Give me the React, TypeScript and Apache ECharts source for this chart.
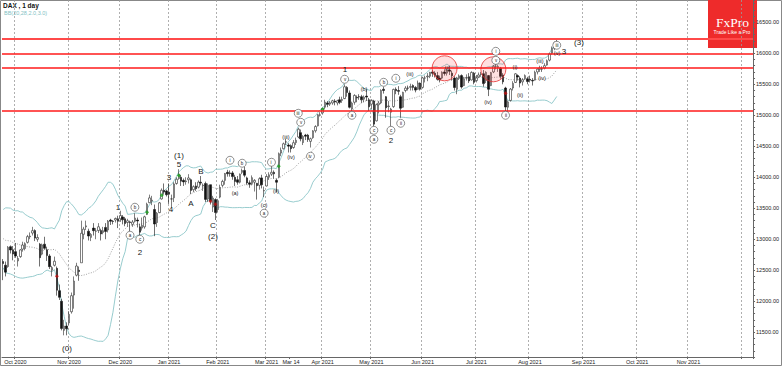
import React, { useEffect, useRef } from "react";
import * as echarts from "echarts";

// ---------- axis / calendar data ----------
const HOLIDAYS = ["2020-12-24", "2020-12-25", "2020-12-31", "2021-01-01", "2021-04-02", "2021-04-05", "2021-12-24"];
const MONTHS = ["Jan", "Feb", "Mar", "Apr", "May", "Jun", "Jul", "Aug", "Sep", "Oct", "Nov", "Dec"];
const CATEGORY_COUNT = 308;
const FIRST_DAY = "2020-09-24";
const SPECIAL_LABEL_DAY = "2021-03-15";
const SPECIAL_LABEL = "Mar 14";
const LAST_LABEL_MONTH = "2021-11";

// ---------- price data ----------
// closes before the first visible bar (used only for Bollinger bands)
const priorCloses = [13033, 12945, 12974, 13243, 13057, 12842, 13100, 12968, 13237, 13209, 13203, 13194, 13218, 13255, 13208, 13116, 12542, 12595, 12643];

// [open, close, low, high]
const ohlc: number[][] = [
  [12640, 12607, 12340, 12680], [12580, 12469, 12400, 12640], [12560, 12870, 12540, 12890], [12880, 12826, 12770, 12900], [12830, 12761, 12660, 12890],
  [12800, 12731, 12700, 12940], [12650, 12689, 12560, 12730], [12720, 12828, 12700, 12840], [12840, 12906, 12800, 12960], [12850, 12928, 12820, 12950],
  [12950, 13042, 12930, 13070], [13040, 13051, 13000, 13110], [13100, 13138, 13060, 13200], [13140, 13018, 12970, 13160], [13000, 13028, 12960, 13080],
  [12920, 12703, 12560, 12940], [12760, 12909, 12740, 12930], [12920, 12854, 12830, 13040], [12830, 12736, 12650, 12880], [12730, 12558, 12520, 12760],
  [12500, 12543, 12400, 12570], [12580, 12645, 12560, 12720], [12530, 12177, 12090, 12560], [12170, 12063, 12020, 12270], [12000, 11561, 11530, 12040],
  [11530, 11598, 11450, 11700], [11600, 11556, 11450, 11660],
  // Nov 2020
  [11650, 11788, 11620, 11840], [11830, 12089, 11800, 12140], [12100, 12324, 11880, 12400], [12420, 12568, 12400, 12620], [12500, 12480, 12330, 12560],
  [12620, 13096, 12620, 13300], [13080, 13163, 13000, 13200], [13200, 13216, 13150, 13300], [13130, 13052, 12980, 13170], [13030, 13076, 12970, 13100],
  [13180, 13138, 13060, 13260], [13130, 13133, 13000, 13180], [13140, 13201, 13100, 13260], [13140, 13086, 12980, 13170], [13110, 13137, 13080, 13200],
  [13190, 13126, 13000, 13260], [13150, 13292, 13110, 13310], [13310, 13289, 13230, 13330], [13290, 13286, 13240, 13310], [13310, 13335, 13270, 13350],
  [13330, 13291, 13180, 13380],
  // Dec 2020
  [13330, 13382, 13280, 13460], [13360, 13313, 13240, 13390], [13330, 13252, 13210, 13360], [13270, 13298, 13200, 13330], [13280, 13271, 13130, 13300],
  [13240, 13278, 13200, 13310], [13290, 13340, 13270, 13420], [13310, 13295, 13190, 13350], [13200, 13114, 13060, 13250], [13180, 13223, 13140, 13350],
  [13200, 13362, 13170, 13380], [13400, 13565, 13390, 13590], [13590, 13667, 13580, 13720], [13620, 13630, 13550, 13700], [13480, 13246, 13050, 13560],
  [13270, 13418, 13200, 13440], [13430, 13587, 13420, 13600], [13650, 13790, 13640, 13820], [13790, 13761, 13720, 13900], [13780, 13719, 13690, 13800],
  // Jan 2021
  [13760, 13726, 13570, 13900], [13650, 13651, 13510, 13720], [13670, 13892, 13600, 13920], [13900, 13968, 13880, 14000], [13980, 14050, 13960, 14130],
  [14000, 13937, 13860, 14040], [13950, 13925, 13860, 13980], [13930, 13940, 13880, 14000], [13960, 13989, 13900, 14050], [13960, 13788, 13730, 13980],
  [13800, 13848, 13760, 13870], [13860, 13815, 13780, 13920], [13840, 13921, 13820, 13950], [13920, 13906, 13870, 14020], [13860, 13873, 13780, 13900],
  [13900, 13643, 13600, 13930], [13650, 13871, 13600, 13900], [13880, 13620, 13560, 13880], [13520, 13665, 13440, 13700], [13640, 13432, 13310, 13660],
  // Feb 2021
  [13480, 13622, 13430, 13650], [13680, 13835, 13660, 13880], [13870, 13933, 13840, 13960], [13950, 14060, 13880, 14070], [14080, 14057, 14010, 14120],
  [14070, 14060, 14010, 14110], [14070, 14011, 13960, 14100], [14000, 13933, 13860, 14040], [13960, 13920, 13880, 14020], [13920, 14050, 13900, 14060],
  [14080, 14109, 14050, 14140], [14110, 14033, 14000, 14170], [13990, 13909, 13880, 14010], [13910, 13887, 13830, 13950], [13900, 13993, 13870, 14030],
  [13920, 13950, 13770, 13970], [13900, 13865, 13640, 13910], [13870, 13976, 13800, 14000], [13990, 13879, 13820, 14040], [13780, 13786, 13680, 13850],
  // Mar 2021
  [13860, 14012, 13850, 14050], [14000, 14039, 13960, 14080], [14050, 14080, 14020, 14190], [14080, 14056, 13980, 14110], [13950, 13920, 13760, 13980],
  [14000, 14380, 13990, 14400], [14390, 14437, 14340, 14480], [14460, 14540, 14450, 14560], [14570, 14569, 14520, 14620], [14520, 14502, 14400, 14550],
  [14510, 14461, 14400, 14530], [14480, 14557, 14460, 14600], [14560, 14596, 14520, 14640], [14650, 14775, 14630, 14800], [14720, 14621, 14580, 14770],
  [14560, 14657, 14520, 14680], [14680, 14662, 14600, 14700], [14680, 14610, 14570, 14700], [14580, 14621, 14480, 14640], [14640, 14748, 14620, 14760],
  [14750, 14818, 14720, 14840], [14830, 15008, 14820, 15020], [15000, 15008, 14980, 15050],
  // Apr 2021
  [15040, 15107, 15010, 15120], [15130, 15212, 15100, 15250], [15200, 15176, 15130, 15230], [15180, 15203, 15150, 15230], [15200, 15234, 15170, 15250],
  [15230, 15215, 15160, 15260], [15200, 15234, 15160, 15250], [15250, 15209, 15180, 15300], [15240, 15255, 15200, 15300], [15270, 15460, 15260, 15500],
  [15450, 15368, 15300, 15470], [15360, 15129, 15110, 15400], [15100, 15195, 15050, 15220], [15210, 15320, 15170, 15340], [15290, 15280, 15210, 15320],
  [15300, 15296, 15250, 15340], [15300, 15249, 15200, 15330], [15260, 15292, 15210, 15320], [15310, 15293, 15230, 15420], [15250, 15136, 15070, 15280],
  // May 2021
  [15180, 15236, 15100, 15260], [15230, 14857, 14810, 15250], [14910, 15171, 14900, 15190], [15170, 15196, 15030, 15230], [15200, 15400, 15180, 15420],
  [15420, 15400, 15350, 15460], [15300, 15120, 14960, 15310], [15140, 15150, 15050, 15230], [15050, 15100, 14820, 15120], [15140, 15417, 15120, 15430],
  [15420, 15397, 15340, 15450], [15400, 15386, 15330, 15470], [15300, 15114, 14960, 15330], [15130, 15370, 15120, 15380], [15400, 15438, 15370, 15470],
  [15440, 15438, 15400, 15480], [15450, 15465, 15400, 15510], [15480, 15450, 15400, 15500], [15450, 15406, 15370, 15470], [15420, 15520, 15410, 15560],
  [15520, 15421, 15400, 15530],
  // Jun 2021
  [15450, 15603, 15430, 15620], [15600, 15603, 15530, 15640], [15620, 15632, 15550, 15680], [15630, 15693, 15600, 15700], [15700, 15677, 15620, 15730],
  [15680, 15640, 15610, 15710], [15640, 15581, 15560, 15700], [15600, 15571, 15530, 15640], [15600, 15693, 15580, 15710], [15700, 15674, 15640, 15740],
  [15680, 15729, 15640, 15760], [15730, 15710, 15650, 15800], [15680, 15636, 15560, 15720], [15600, 15448, 15400, 15630], [15420, 15603, 15340, 15620],
  [15600, 15636, 15570, 15660], [15640, 15456, 15430, 15660], [15480, 15589, 15470, 15620], [15600, 15607, 15560, 15660], [15620, 15554, 15520, 15680],
  [15570, 15691, 15560, 15710], [15680, 15531, 15500, 15700],
  // Jul 2021
  [15560, 15603, 15530, 15650], [15620, 15650, 15600, 15690], [15660, 15661, 15620, 15700], [15670, 15511, 15460, 15730], [15560, 15692, 15520, 15710],
  [15640, 15420, 15310, 15650], [15480, 15688, 15470, 15700], [15700, 15790, 15680, 15810], [15790, 15790, 15740, 15850], [15770, 15788, 15700, 15810],
  [15760, 15629, 15590, 15780], [15650, 15540, 15500, 15680], [15440, 15133, 15060, 15460], [15130, 15216, 15030, 15240], [15240, 15422, 15220, 15440],
  [15440, 15514, 15400, 15550], [15530, 15669, 15520, 15680], [15640, 15618, 15560, 15660], [15600, 15519, 15450, 15630], [15540, 15570, 15480, 15600],
  [15590, 15640, 15570, 15660], [15590, 15544, 15500, 15620],
  // Aug 2021
  [15580, 15568, 15530, 15640], [15560, 15555, 15480, 15600], [15570, 15692, 15560, 15720], [15700, 15744, 15660, 15760], [15740, 15761, 15700, 15800],
  [15750, 15745, 15700, 15790], [15760, 15800, 15740, 15840], [15810, 15880, 15800, 15900], [15890, 15990, 15870, 16010], [16000, 16080, 15980, 16110],
  [16080, 16170, 16050, 16190], [16180, 16150, 16120, 16240],
];

const resistanceLevels = [16233, 16000, 15767, 15079];
const currentPrice = 15941.88;

// ---------- annotations [barIndex, price, text] ----------
const waveLabels: [number, number, string][] = [
  [26, 11242, "(0)"], [47, 13516, "1"], [56, 12790, "2"], [68, 14000, "3"], [69, 13484, "4"],
  [72, 14355, "(1)"], [72, 14210, "5"], [77, 13580, "A"], [81, 14097, "B"], [86, 13226, "C"],
  [86, 13048, "(2)"], [140, 15742, "1"], [159, 14597, "2"], [230, 16032, "3"], [236, 16177, "(3)"],
];
const circledLabels: [number, number, string][] = [
  [54, 13516, "b"], [52, 13064, "a"], [56, 13000, "c"], [93, 14274, "i"], [98, 14226, "b"],
  [110, 14242, "i"], [107, 13420, "a"], [121, 15032, "iii"], [122, 14887, "v"], [126, 14339, "iv"],
  [140, 15581, "v"], [143, 15000, "a"], [152, 14758, "c"], [152, 14613, "a"], [156, 15532, "b"],
  [159, 14758, "c"], [161, 15597, "i"], [163, 14871, "ii"], [202, 16032, "i"], [202, 15887, "v"],
  [206, 15000, "ii"], [227, 16130, "iii"],
];
const parenLabels: [number, number, string][] = [
  [95, 13742, "(a)"], [107, 13560, "(c)"], [112, 13774, "(ii)"], [116, 14645, "(iii)"], [118, 14322, "(iv)"],
  [148, 15419, "(b)"], [167, 15661, "(iii)"], [182, 15758, "(i)"], [199, 15210, "(iv)"], [210, 15774, "(i)"],
  [212, 15323, "(ii)"], [220, 15871, "(iii)"], [221, 15597, "(iv)"], [227, 16000, "(v)"],
];
const highlightCircles: [number, number][] = [[181, 15758], [201, 15742]];
const greenSignals: [number, number][] = [[59, 13435], [65, 13710], [72, 14030], [113, 14177], [131, 15097]];
const redSignals: [number, number][] = [[22, 12403], [85, 13613], [87, 13565], [206, 15355]];

const BB_PERIOD = 20;
const BB_DEV = 2;

function buildDates(): string[] {
  const out: string[] = [];
  const [y, m, d0] = FIRST_DAY.split("-").map(Number);
  const d = new Date(Date.UTC(y, m - 1, d0));
  while (out.length < CATEGORY_COUNT) {
    const wd = d.getUTCDay();
    const s = d.toISOString().slice(0, 10);
    if (wd !== 0 && wd !== 6 && !HOLIDAYS.includes(s)) out.push(s);
    d.setUTCDate(d.getUTCDate() + 1);
  }
  return out;
}

function bollinger() {
  const closes = [...priorCloses, ...ohlc.map((r) => r[1])];
  const off = priorCloses.length;
  const up: number[] = [], mid: number[] = [], lo: number[] = [];
  for (let i = 0; i < ohlc.length; i++) {
    const end = i + off + 1;
    const w = closes.slice(Math.max(0, end - BB_PERIOD), end);
    const mean = w.reduce((a, b) => a + b, 0) / w.length;
    const sd = Math.sqrt(w.reduce((a, b) => a + (b - mean) * (b - mean), 0) / w.length);
    mid.push(+mean.toFixed(2));
    up.push(+(mean + BB_DEV * sd).toFixed(2));
    lo.push(+(mean - BB_DEV * sd).toFixed(2));
  }
  return { up, mid, lo };
}

const FONT = "'Liberation Sans', Arial, sans-serif";
const INK = "#1a1a1a";

function textSeries(name: string, list: [number, number, string][], fontSize: number, circled: boolean) {
  return {
    name,
    type: "custom",
    coordinateSystem: "cartesian2d",
    data: list.map((d) => [d[0], d[1]]),
    z: 6,
    silent: true,
    clip: false,
    renderItem: (params: any, api: any) => {
      const p = api.coord([api.value(0), api.value(1)]);
      const txt = {
        type: "text",
        x: Math.round(p[0]),
        y: Math.round(p[1]),
        style: { text: list[params.dataIndex][2], fill: INK, fontSize, fontFamily: FONT, align: "center", verticalAlign: "middle" },
      };
      if (!circled) return txt;
      return {
        type: "group",
        children: [
          { type: "circle", shape: { cx: p[0], cy: p[1], r: 4 }, style: { fill: "#ffffff", stroke: "#444", lineWidth: 0.6 } },
          txt,
        ],
      };
    },
  };
}

export default function App() {
  const ref = useRef<HTMLDivElement>(null);
  useEffect(() => {
    if (!ref.current) return;
    const chart = echarts.init(ref.current, undefined, { renderer: "svg" });
    const dates = buildDates();
    const monthStart = dates.map((s, i) => i > 0 && s.slice(0, 7) !== dates[i - 1].slice(0, 7));
    const labelText = (i: number) => {
      const s = dates[i];
      if (!s) return "";
      if (s === SPECIAL_LABEL_DAY) return SPECIAL_LABEL;
      if (monthStart[i] && s.slice(0, 7) <= LAST_LABEL_MONTH) {
        return `${MONTHS[Number(s.slice(5, 7)) - 1]} ${s.slice(0, 4)}`;
      }
      return "";
    };
    const bb = bollinger();

    const option: any = {
      animation: false,
      backgroundColor: "#ffffff",
      textStyle: { fontFamily: FONT },
      grid: { left: 2, right: 27, top: 0, bottom: 9, containLabel: false },
      xAxis: {
        type: "category",
        data: dates,
        boundaryGap: true,
        axisLine: { show: true, lineStyle: { color: "#666", width: 1 } },
        axisTick: { show: true, length: 2, interval: (i: number) => labelText(i) !== "" || monthStart[i], lineStyle: { color: "#666" } },
        axisLabel: {
          show: true,
          interval: (i: number) => labelText(i) !== "",
          formatter: (_v: string, i: number) => labelText(i),
          fontSize: 5.5,
          color: "#222",
          margin: 1.5,
          fontFamily: FONT,
        },
        splitLine: { show: true, interval: (i: number) => monthStart[i], lineStyle: { color: "#9a9a9a", type: [2, 2], width: 0.8 } },
      },
      yAxis: {
        type: "value",
        position: "right",
        min: 11100,
        max: 16860,
        interval: 100,
        scale: true,
        axisLine: { show: true, lineStyle: { color: "#666", width: 1 } },
        axisTick: { show: true, length: 2, lineStyle: { color: "#666" } },
        axisLabel: {
          show: true,
          fontSize: 5.5,
          lineHeight: 5,
          color: "#222",
          margin: 3,
          fontFamily: FONT,
          formatter: (v: number) => (Math.round(v) % 500 === 0 ? v.toFixed(2) : ""),
        },
        splitLine: { show: false },
      },
      graphic: [
        { type: "rect", shape: { x: 0.5, y: 0.5, width: 781, height: 365 }, style: { fill: "none", stroke: "#888", lineWidth: 1 }, silent: true },
        { type: "text", x: 3, y: 2, style: { text: "DAX , 1 day", fontSize: 6.5, fontWeight: "bold", fontFamily: FONT, fill: "#111" } },
        { type: "text", x: 4, y: 10, style: { text: "BB(20,28,2.0,3.0)", fontSize: 5.5, fontFamily: FONT, fill: "#7fbfc4" } },
        { type: "rect", shape: { x: 708, y: 0, width: 49, height: 48 }, style: { fill: "#ee2b2b" } },
        { type: "text", x: 732.5, y: 22, style: { text: "FxPro", fontSize: 13.5, fontFamily: "'Liberation Serif', 'DejaVu Serif', serif", fill: "#ffffff", align: "center", verticalAlign: "middle" } },
        { type: "text", x: 732, y: 31.5, style: { text: "Trade Like a Pro", fontSize: 5, fontFamily: FONT, fill: "#ffffff", align: "center", verticalAlign: "middle" } },
      ],
      series: [
        {
          name: "BB upper", type: "line", data: bb.up, showSymbol: false, symbol: "none", silent: true, z: 1,
          lineStyle: { color: "#8cc6c8", width: 0.9 },
        },
        {
          name: "BB lower", type: "line", data: bb.lo, showSymbol: false, symbol: "none", silent: true, z: 1,
          lineStyle: { color: "#8cc6c8", width: 0.9 },
        },
        {
          name: "BB middle", type: "line", data: bb.mid, showSymbol: false, symbol: "none", silent: true, z: 1,
          lineStyle: { color: "#8a8a8a", width: 0.8, type: [1, 1.5] },
        },
        {
          name: "DAX", type: "candlestick", data: ohlc, barWidth: 2, z: 2,
          itemStyle: { color: "#ffffff", color0: "#111111", borderColor: "#2a2a2a", borderColor0: "#111111", borderWidth: 0.6 },
          markLine: {
            silent: true, symbol: "none", animation: false,
            label: { show: false },
            data: [
              ...resistanceLevels.map((v, i) => ({ yAxis: v, lineStyle: { color: i === 0 ? "#ff4a4a" : "#ff1a1a", width: i === 0 ? 1.8 : 1.5, type: "solid" } })),
              {
                yAxis: currentPrice,
                lineStyle: { opacity: 0, width: 0 },
                label: {
                  show: true, position: "end", distance: 1, offset: [0, 2], formatter: currentPrice.toFixed(2), fontSize: 5.5, lineHeight: 5, color: "#111",
                  backgroundColor: "#fff", borderColor: "#333", borderWidth: 0.5, padding: [0.5, 1, 0, 1], fontFamily: FONT,
                },
              },
            ],
          },
        },
        {
          name: "highlight", type: "scatter", data: highlightCircles, symbol: "circle", symbolSize: 25, z: 3, silent: true,
          itemStyle: { color: "rgba(255,60,60,0.2)", borderColor: "#e53030", borderWidth: 1 },
        },
        {
          name: "green", type: "scatter", data: greenSignals, symbol: "diamond", symbolSize: 4, z: 4, silent: true,
          itemStyle: { color: "#18a018" },
        },
        {
          name: "red", type: "scatter", data: redSignals, symbol: "diamond", symbolSize: 4, z: 4, silent: true,
          itemStyle: { color: "#c01010" },
        },
        textSeries("waves", waveLabels, 8, false),
        textSeries("circled", circledLabels, 4.5, true),
        textSeries("paren", parenLabels, 5.5, false),
      ],
    };
    chart.setOption(option);
    return () => chart.dispose();
  }, []);
  return <div ref={ref} style={{ position: "fixed", left: 0, top: 0, width: 782, height: 366 }} />;
}
